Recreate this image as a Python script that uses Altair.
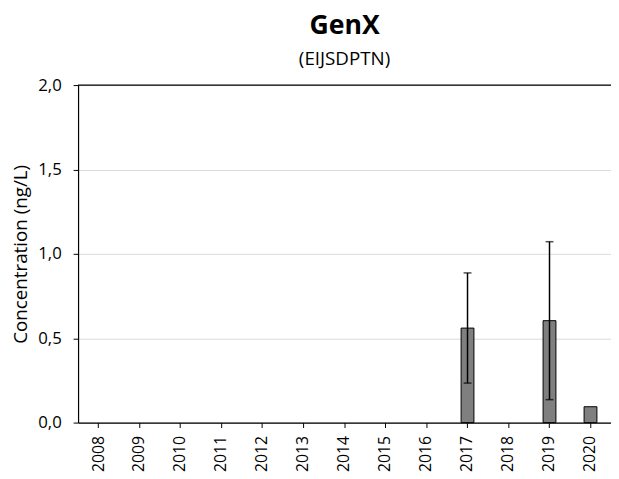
import altair as alt
import pandas as pd

years = ["2008", "2009", "2010", "2011", "2012", "2013", "2014", "2015",
         "2016", "2017", "2018", "2019", "2020"]
bar_years = ["2017", "2019", "2020"]
bar_values = [0.56, 0.604, 0.094]
err_years = ["2017", "2019"]
err_low = [0.234, 0.136]
err_high = [0.887, 1.072]

bars_df = pd.DataFrame({"year": bar_years, "value": bar_values})
err_df = pd.DataFrame({"year": err_years, "low": err_low, "high": err_high})

FONT = "Open Sans"

x_enc = alt.X("year:N", scale=alt.Scale(domain=years, paddingInner=0, paddingOuter=0),
              sort=years,
              axis=alt.Axis(title=None, labelAngle=-90, labelFontSize=16, labelFont=FONT,
                            labelColor="black", labelPadding=8, tickSize=5,
                            tickColor="black", domainColor="black", domainWidth=1.2,
                            grid=False))
y_scale = alt.Scale(domain=[0, 2], nice=False)
y_axis = alt.Axis(title="Concentration (ng/L)", titleFontSize=19, titleFont=FONT,
                  titleFontWeight="normal", titleColor="black", titlePadding=7,
                  values=[0, 0.5, 1, 1.5, 2],
                  labelExpr="replace(format(datum.value, '.1f'), '.', ',')",
                  labelFontSize=17, labelFont=FONT, labelColor="black", labelPadding=12,
                  tickSize=5, tickColor="black", domainColor="black", domainWidth=1.2,
                  grid=True, gridColor="#d9d9d9", gridWidth=1)

bars = alt.Chart(bars_df).mark_bar(size=13, color="#7f7f7f", stroke="black",
                                   strokeWidth=1).encode(
    x=x_enc,
    y=alt.Y("value:Q", scale=y_scale, axis=y_axis),
)

rules = alt.Chart(err_df).mark_rule(color="black", strokeWidth=1.5).encode(
    x=alt.X("year:N", sort=years),
    y="low:Q",
    y2="high:Q",
)
cap_low = alt.Chart(err_df).mark_tick(color="black", thickness=1.5, size=8,
                                      orient="horizontal").encode(
    x=alt.X("year:N", sort=years), y="low:Q")
cap_high = alt.Chart(err_df).mark_tick(color="black", thickness=1.5, size=8,
                                       orient="horizontal").encode(
    x=alt.X("year:N", sort=years), y="high:Q")

top = alt.Chart(pd.DataFrame({"v": [2.0]})).mark_rule(color="black", strokeWidth=1.2).encode(
    y="v:Q")

chart = alt.layer(bars, rules, cap_low, cap_high, top).properties(
    width=540,
    height=342,
    title=alt.TitleParams("GenX", subtitle="(EIJSDPTN)", fontSize=27, font=FONT,
                          fontWeight="bold", color="black", subtitleFont=FONT,
                          subtitleFontSize=19, subtitleColor="black",
                          anchor="middle", offset=6, subtitlePadding=11),
    autosize=alt.AutoSizeParams(type="none"),
    padding={"left": 71, "top": 75, "right": 0, "bottom": 50},
).configure_view(stroke=None).configure(background="white")

chart.save("out.html", embed_options={"renderer": "svg", "actions": False})
